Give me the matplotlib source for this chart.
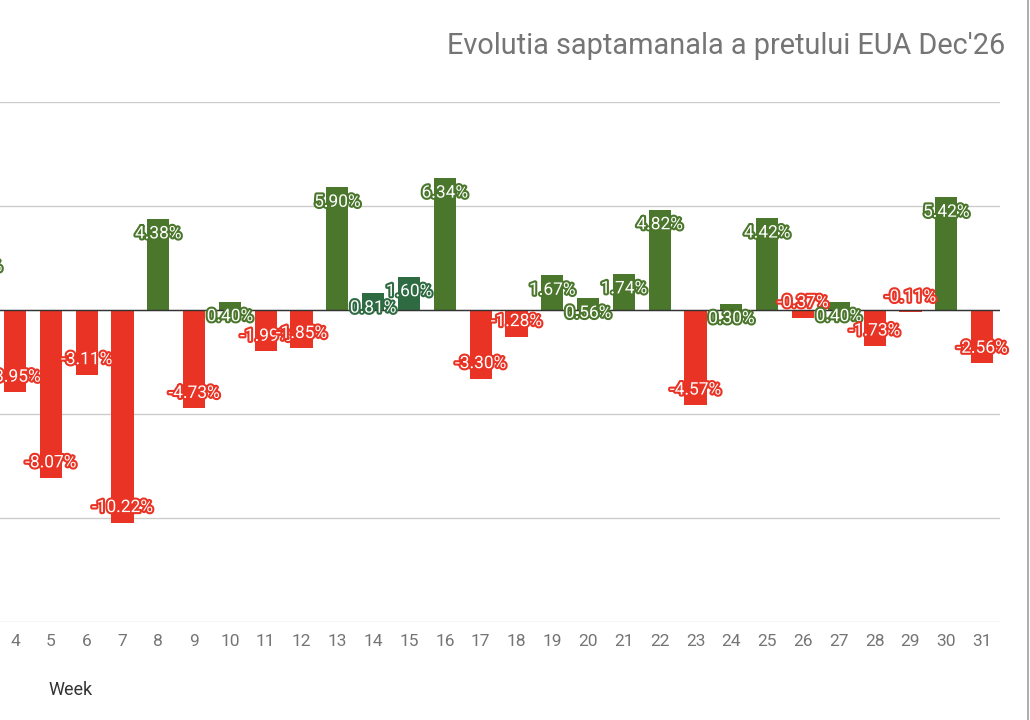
import matplotlib
matplotlib.use("Agg")
import matplotlib.pyplot as plt
import matplotlib.patheffects as pe
from matplotlib.lines import Line2D

plt.rcParams['font.family'] = ['Roboto', 'DejaVu Sans']

weeks = list(range(3, 32))
changes = [2.80, -3.95, -8.07, -3.11, -10.22, 4.38, -4.73, 0.40, -1.99, -1.85,
           5.90, 0.81, 1.60, 6.34, -3.30, -1.28, 1.67, 0.56, 1.74, 4.82,
           -4.57, 0.30, 4.42, -0.37, 0.40, -1.73, -0.11, 5.42, -2.56]
labels = [f"{v:.2f}%" for v in changes]
title = "Evolutia saptamanala a pretului EUA Dec'26"
xlabel = "Week"

GREEN = "#4a772c"
DARK_GREEN = "#2f6b42"
RED = "#e93425"
dark_weeks = {14, 15}

W, H = 1030, 720
fig = plt.figure(figsize=(W / 100, H / 100), dpi=100)
ax = fig.add_axes([0, (H - 622) / H, 1000 / W, (622 - 102) / H])

colors = []
for w, v in zip(weeks, changes):
    if v < 0:
        colors.append(RED)
    elif w in dark_weeks:
        colors.append(DARK_GREEN)
    else:
        colors.append(GREEN)

ax.bar(weeks, changes, width=0.62, color=colors, zorder=2)
ax.axhline(0, color="#333333", lw=1.0, zorder=3)

ax.set_xlim(3.58, 31.5)
ax.set_ylim(-15, 10)
ax.set_yticks([-15, -10, -5, 0, 5, 10])
ax.yaxis.grid(True, color="#cccccc", lw=1.0, zorder=0)
ax.set_yticklabels([])
ax.tick_params(axis='y', length=0)
ax.set_xticks(weeks[1:])
ax.set_xticklabels([str(w) for w in weeks[1:]])
ax.tick_params(axis='x', length=0, colors="#757575", labelsize=12.5, pad=9)
for s in ax.spines.values():
    s.set_visible(False)

for w, v, lab, c in zip(weeks, changes, labels, colors):
    off = -10.8 if v >= 0 else 10.8
    t = ax.annotate(lab, (w, v), xytext=(0, off), textcoords="offset points",
                    ha="center", va="center", color="white", fontsize=12.5,
                    zorder=5, annotation_clip=False)
    t.set_path_effects([pe.withStroke(linewidth=3, foreground=c)])

fig.text(1005 / W, 1 - 46 / H, title, ha="right", va="center",
         fontsize=20.8, color="#757575")
fig.text(48 / W, 1 - 690 / H, xlabel, ha="left", va="center",
         fontsize=13, color="#333333")

fig.add_artist(Line2D([1027.5 / W, 1027.5 / W], [0, 1], color="#9e9e9e",
                      lw=1.2, transform=fig.transFigure))

fig.savefig("out.png", dpi=100, facecolor="white")
